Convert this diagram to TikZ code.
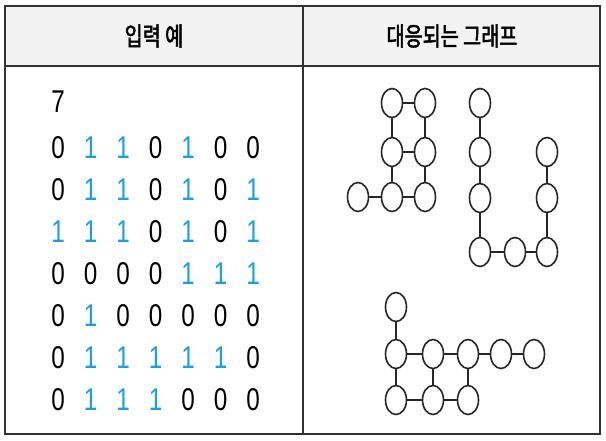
\documentclass[tikz,border=0pt]{standalone}
\usepackage{fontspec}
\usetikzlibrary{shapes.geometric}
\newfontfamily\digitfont[FakeStretch=0.77]{Liberation Sans}
\newfontfamily\korfont[FakeStretch=0.77,FakeBold=2]{Noto Sans CJK KR}
\definecolor{oneblue}{RGB}{27,160,222}
\definecolor{linegray}{RGB}{50,50,50}
\definecolor{headfill}{RGB}{242,242,242}
\begin{document}
\begin{tikzpicture}[x=1pt,y=-1pt,
  digit/.style={inner sep=0pt,font=\digitfont\fontsize{31.5}{32}\selectfont},
  d0/.style={digit,text=black},
  d1/.style={digit,text=oneblue},
  head/.style={font=\korfont\fontsize{25.5}{26}\selectfont,inner sep=0pt},
  vtx/.style={ellipse,draw=black!85,line width=1.6pt,minimum width=21pt,minimum height=29pt,inner sep=0pt},
  link/.style={draw=black!85,line width=1.6pt},
  frame/.style={draw=linegray,line width=2.2pt}]
\useasboundingbox (0,0) rectangle (606,440);
\fill[white] (0,0) rectangle (606,440);
\fill[headfill] (5,6) rectangle (600,66);
\draw[frame] (5,66) -- (600,66);
\draw[frame] (303,6) -- (303,434);
\draw[frame] (5,6) rectangle (600,434);
% headers
\node[head] (h1) at (154,36) {입력 예};
\node[head] (h2) at (452,36) {대응되는 그래프};
% input
\node[d0] (seven) at (58,102) {7};
\foreach \rowvals [count=\r] in {{0,1,1,0,1,0,0},{0,1,1,0,1,0,1},{1,1,1,0,1,0,1},{0,0,0,0,1,1,1},{0,1,0,0,0,0,0},{0,1,1,1,1,1,0},{0,1,1,1,0,0,0}}{
  \foreach \v [count=\c] in \rowvals {
    \node[d\v] (m-\r-\c) at ({58+32.5*(\c-1)},{148+42*(\r-1)}) {\v};
  }
}
% cluster A
\node[vtx] (a1) at (392,103) {};
\node[vtx] (a2) at (425,103) {};
\node[vtx] (a3) at (392,152) {};
\node[vtx] (a4) at (425,152) {};
\node[vtx] (a5) at (358,197) {};
\node[vtx] (a6) at (392,197) {};
\node[vtx] (a7) at (425,197) {};
\draw[link] (a1) -- (a2);
\draw[link] (a1) -- (a3);
\draw[link] (a2) -- (a4);
\draw[link] (a3) -- (a4);
\draw[link] (a3) -- (a6);
\draw[link] (a4) -- (a7);
\draw[link] (a5) -- (a6);
\draw[link] (a6) -- (a7);
% cluster B
\node[vtx] (b1) at (480,103) {};
\node[vtx] (b2) at (480,152) {};
\node[vtx] (b3) at (480,198) {};
\node[vtx] (b4) at (480,252) {};
\node[vtx] (b5) at (515,252) {};
\node[vtx] (b6) at (547,252) {};
\node[vtx] (b7) at (547,198) {};
\node[vtx] (b8) at (547,152) {};
\draw[link] (b1) -- (b2);
\draw[link] (b2) -- (b3);
\draw[link] (b3) -- (b4);
\draw[link] (b4) -- (b5);
\draw[link] (b5) -- (b6);
\draw[link] (b6) -- (b7);
\draw[link] (b7) -- (b8);
% cluster C
\node[vtx] (c1) at (396,307) {};
\node[vtx] (c2) at (396,354) {};
\node[vtx] (c3) at (433,354) {};
\node[vtx] (c4) at (468,354) {};
\node[vtx] (c5) at (501,354) {};
\node[vtx] (c6) at (534,354) {};
\node[vtx] (c7) at (396,400) {};
\node[vtx] (c8) at (433,400) {};
\node[vtx] (c9) at (468,400) {};
\draw[link] (c1) -- (c2);
\draw[link] (c2) -- (c3);
\draw[link] (c3) -- (c4);
\draw[link] (c4) -- (c5);
\draw[link] (c5) -- (c6);
\draw[link] (c2) -- (c7);
\draw[link] (c3) -- (c8);
\draw[link] (c4) -- (c9);
\draw[link] (c7) -- (c8);
\draw[link] (c8) -- (c9);
\end{tikzpicture}
\end{document}
